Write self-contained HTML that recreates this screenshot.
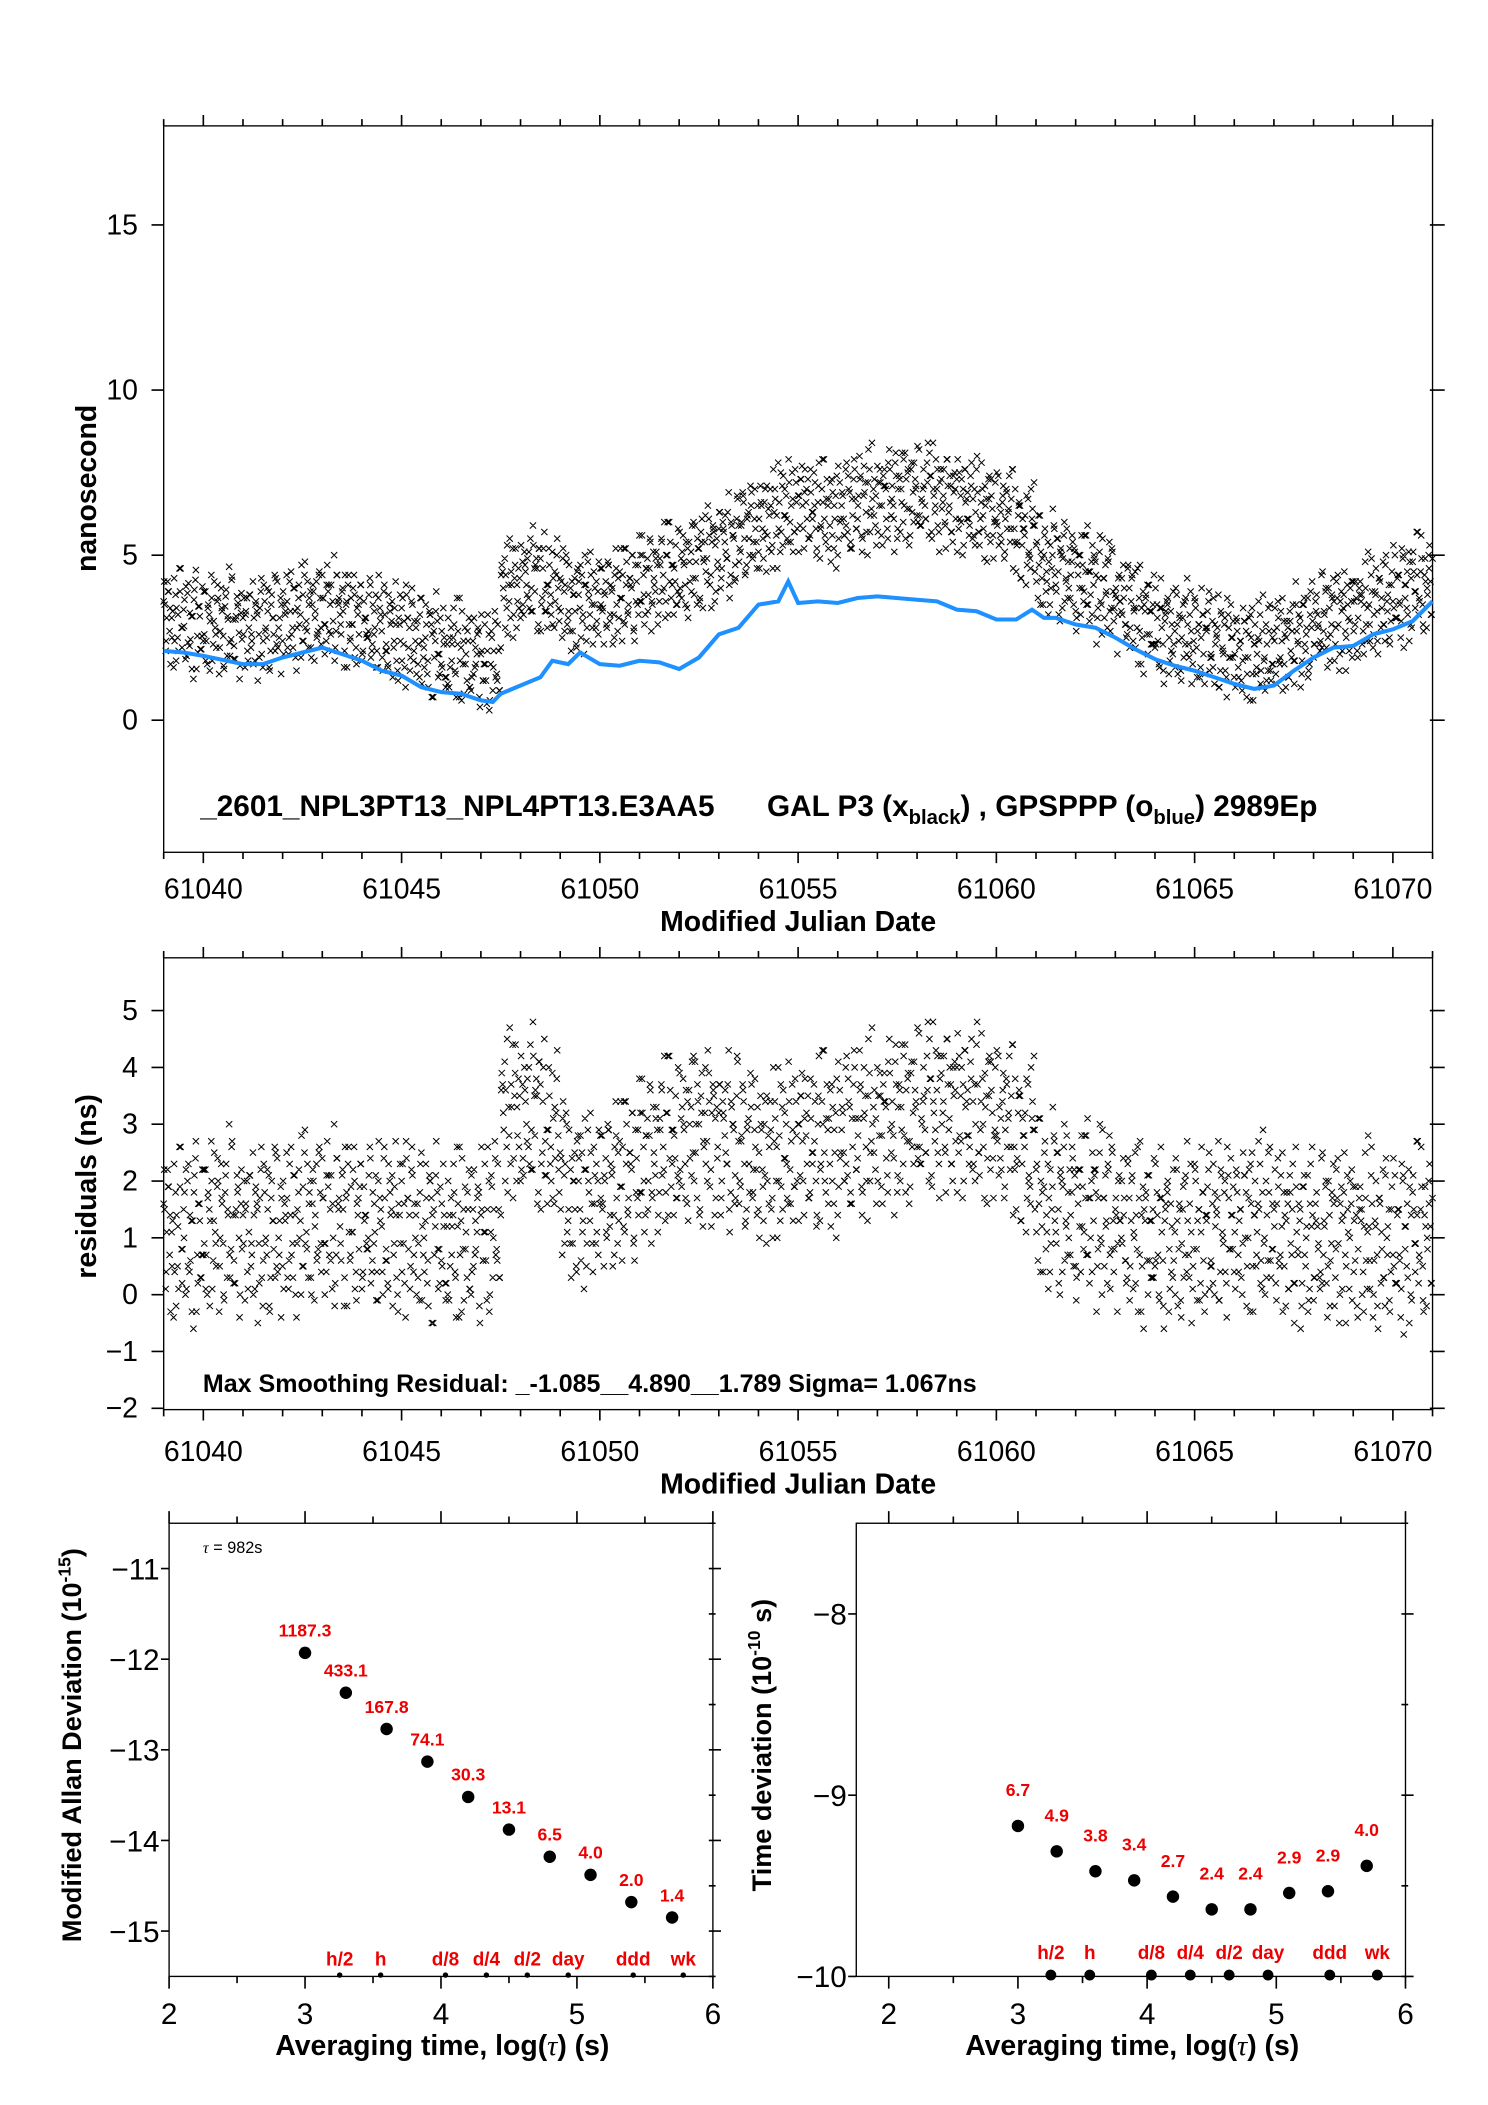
<!DOCTYPE html>
<html><head><meta charset="utf-8"><style>
html,body{margin:0;padding:0;background:#fff}
svg{display:block}
text{font-family:"Liberation Sans Narrow","Liberation Sans",sans-serif}
.b{font-family:"Liberation Sans",sans-serif;font-weight:bold}
</style></head><body>
<svg id="s" xmlns="http://www.w3.org/2000/svg" width="1488" height="2105" viewBox="0 0 1100 1556">
<rect width="1100" height="1556" fill="#fff"/>
<g id="g1"></g>
<g id="g2"></g>
<g id="g3"></g>
<g id="g4"></g>
</svg>
<script>
// ---- data ----
const mjdStart = 61039;
const topCenter = [3.0,2.95,2.9,2.85,2.8,2.9,3.1,3.2,3.3,3.1,2.9,2.7,2.5,2.3,2.1,1.9,1.8,3.9,4.3,4.0,3.6,3.6,3.7,3.9,4.2,4.4,4.6,5.0,5.3,5.7,6.0,6.3,6.4,6.3,6.4,6.6,6.7,6.8,6.8,6.7,6.5,6.3,6.2,5.6,4.7,4.6,4.3,4.0,3.5,3.1,2.7,2.6,2.5,2.3,2.1,2.1,2.3,2.6,3.0,3.1,3.3,3.5,3.9,4.1,4.4];
const midCenter = [1.0,1.1,1.2,1.2,1.1,1.1,1.2,1.3,1.3,1.3,1.2,1.2,1.1,1.1,1.0,1.0,1.2,3.1,3.2,2.8,1.8,1.7,1.9,2.1,2.4,2.6,2.8,2.8,2.7,2.5,2.4,2.5,2.6,2.7,2.8,2.9,3.0,3.1,3.2,3.3,3.2,3.1,3.0,2.6,1.6,1.6,1.5,1.4,1.2,1.1,1.0,1.0,1.1,1.2,1.2,1.2,1.1,1.0,1.0,1.1,1.0,0.9,1.0,1.1,1.2];
const dev = [
.6,-.9,1.2,-.3,.1,-1.4,.8,-.5,1.6,-.2,.4,-1.1,.9,-.7,.2,-1.7,1.3,-.4,.5,-.8,
-.5,1,-1.2,.3,1.5,-.6,-.1,.7,-1.5,1.1,-.3,.6,-.9,1.8,-.4,.2,-1,.9,-.2,.4,
.3,-1.2,.9,0,-.6,1.4,-1,.5,-.2,1.1,-1.3,.7,-.4,1,-.8,.2,1.5,-.6,-.1,.8,
-.7,.4,1.3,-1.1,.2,-.3,.9,-1.6,.6,.1,-.8,1.2,-.2,-1,.7,.3,-1.4,1,-.5,.5,
1.1,-.4,-.9,.6,.2,-1.2,1.7,-.6,.3,-.1,.8,-1.5,.4,1,-.7,-.2,1.3,-.9,.1,.6,
-1.1,.7,.2,-.4,1.4,-.8,-.3,.9,-1.3,.5,0,1.2,-.6,-1,.8,.3,-.5,1.5,-1.2,.2,
.9,-.2,-1.5,.6,.3,1.1,-.7,-.1,.5,-1.2,1.4,-.4,.2,-.9,1,.6,-1.6,.1,.7,-.3,
-.4,1.3,-.8,.2,-1.1,.7,.4,-.6,1.6,-1.4,.3,-.2,.9,-.7,1.2,-1,.5,-.3,.1,.8,
.2,-.6,1.1,-1.3,.8,-.1,-.9,1.5,-.4,.3,-1.7,.6,1,-.5,.2,-.8,1.3,.4,-1.1,.7,
-1.2,.5,.8,-.2,-.6,1.2,-1,.3,.6,-1.4,.9,-.3,1.7,-.7,.1,-.5,1.1,-1.2,.4,0,
.7,-1.1,.3,1.4,-.5,-.9,.6,.2,-1.3,1,-.2,.8,-1.6,.5,1.2,-.4,-.1,.9,-.8,.3,
-.3,.9,-1.4,.5,1.1,-.7,.2,-.5,1.5,-1,.6,-.2,-.9,1.3,-.6,.4,.1,-1.2,.8,-.4,
1.4,-.6,.2,-1,.7,.4,-1.5,.9,-.3,.5,-.8,1.1,0,-1.3,.6,1.6,-.7,.3,-.2,-.9,
-.8,.3,1,-.5,-1.2,.8,.5,-.3,1.3,-1.1,.2,.7,-1.6,.4,-.1,1.1,-.6,.9,-1.4,.5,
.5,-1.3,.7,.1,-.4,1.6,-.9,.3,-1.1,.8,.2,-.6,1.2,-.2,-1,.6,1.4,-.8,.4,-.3,
-.9,1.1,-.2,.6,-1.5,.4,1,-.7,.3,-.4,1.5,-1.2,.8,-.1,.5,-.9,-.3,1.2,-.6,.9,
.4,-.5,1.3,-1.2,.2,.9,-.8,-.1,1.1,-.6,.3,-1.4,.7,1.6,-.9,.2,-.4,1,-1.1,.5,
-1.4,.8,.1,-.3,1.2,-.7,.5,-1.2,.9,.3,-.5,1.4,-1,.2,.6,-1.6,1,-.2,.4,-.7,
1,-.2,-1.1,.7,.4,-.9,1.5,-.5,-.2,1.1,-1.3,.6,.2,-.8,1.3,-.4,-1.5,.8,.1,.5,
-.6,1.4,-.9,.2,-.3,1,-1.2,.6,1.6,-.5,.3,-1,.9,-.1,-.7,1.2,-.4,.4,-1.3,.8,
.8,-.7,.3,-1.5,1.1,.2,-.4,.9,-1,.5,1.3,-.6,-.2,.7,-1.4,.4,1,-.9,.1,-.3,
-.2,1.2,-.6,.4,-1.3,.8,.1,-.8,1.4,-.4,-1.1,.6,.9,-.3,.2,-1.5,1.1,-.7,.5,1.6,
.6,-1,1.5,-.4,.3,-.8,.7,-1.2,-.1,1.2,-.5,.9,-1.6,.4,1,-.3,-.9,.6,.2,-1.1,
-1,.4,-.3,1.3,-.7,.2,1.6,-1.3,.5,-.2,.8,-.9,1.1,-.5,.3,.7,-1.2,1.4,-.6,-.1,
.3,-1.5,.9,-.2,1.2,-.6,-.9,.5,.1,-1.1,1.4,-.3,.6,-1.4,.8,.2,-.5,1,-.8,.4,
-.5,.8,-1,1.6,-.4,.3,.9,-1.3,.6,-.7,.1,1.2,-.2,-1.1,.5,1,-.6,-.3,1.3,-.9,
1.2,-.3,.4,-.9,.7,-1.4,.2,1.1,-.6,.5,-1.2,.3,1.5,-.8,-.1,.6,-1,.9,-.4,.2,
-.8,1,-.5,.3,-1.2,.9,.6,-.2,-1.5,1.3,.2,-.7,.4,1.1,-1.1,-.3,.8,-.6,1.4,-.4,
.4,-.9,1.3,-.6,.1,.7,-1.3,.5,1,-.4,-.8,1.6,-.2,.3,-1.2,.9,-.5,1.1,-.9,.2,
-1.1,.6,.2,-.7,1.4,-.3,.9,-1.4,.4,-.1,1.2,-.8,.6,-1.6,.8,.3,-.4,1,-1,.5,
.9,-.4,-1.2,.7,.3,-.6,1.5,-.9,.2,1.1,-1.3,.4,-.2,.8,-.7,1.3,-1.1,.1,.6,-.5,
-.3,1.1,-.8,.5,-1.4,1,.2,-.5,1.2,-1,.7,-.2,1.6,-.9,.4,-.6,.3,-1.3,.9,.1,
.5
];
const blueX = [61039,61039.5,61040,61041,61041.5,61042,61042.5,61043,61043.5,61044,61044.5,61045,61045.5,61046,61046.5,61047,61047.3,61047.5,61048,61048.5,61048.8,61049.2,61049.5,61050,61050.5,61051,61051.5,61052,61052.5,61053,61053.5,61054,61054.5,61054.75,61055,61055.5,61056,61056.5,61057,61058,61058.5,61059,61059.5,61060,61060.5,61060.9,61061.2,61061.5,61062,61062.5,61063,61063.5,61064,61064.5,61065,61065.5,61066,61066.5,61067,61067.5,61068,61068.5,61069,61069.5,61070,61070.5,61071];
const blueY = [2.1,2.05,1.95,1.7,1.7,1.9,2.05,2.2,2.0,1.8,1.5,1.35,1.0,0.85,0.8,0.6,0.55,0.8,1.05,1.3,1.8,1.7,2.05,1.7,1.65,1.8,1.75,1.55,1.9,2.6,2.8,3.5,3.6,4.2,3.55,3.6,3.55,3.7,3.75,3.65,3.6,3.35,3.3,3.05,3.05,3.35,3.1,3.1,2.9,2.8,2.5,2.15,1.85,1.65,1.5,1.3,1.1,0.95,1.05,1.5,1.9,2.2,2.25,2.6,2.75,3.0,3.6];
const logTau = [3.0,3.3,3.6,3.9,4.2,4.5,4.8,5.1,5.4,5.7];
const madev = [-11.93,-12.37,-12.77,-13.13,-13.52,-13.88,-14.18,-14.38,-14.68,-14.85];
const madevLabels = ["1187.3","433.1","167.8","74.1","30.3","13.1","6.5","4.0","2.0","1.4"];
const tdev = [-9.17,-9.31,-9.42,-9.47,-9.56,-9.63,-9.63,-9.54,-9.53,-9.39];
const tdevLabels = ["6.7","4.9","3.8","3.4","2.7","2.4","2.4","2.9","2.9","4.0"];
const markerNames = ["h/2","h","d/8","d/4","d/2","day","ddd","wk"];
const markerTau = [3.255,3.556,4.033,4.334,4.635,4.936,5.414,5.782];
const mjdTicks = [61040,61045,61050,61055,61060,61065,61070];
const topYTicks = [0,5,10,15];
const midYTicks = [-2,-1,0,1,2,3,4,5];

// ---- helpers ----
const NS='http://www.w3.org/2000/svg';
function mk(parent,tag,attrs,txt){const e=document.createElementNS(NS,tag);for(const k in attrs)e.setAttribute(k,attrs[k]);if(txt!==undefined)e.textContent=txt;parent.appendChild(e);return e;}
function lin(d0,d1,r0,r1){return v=>r0+(v-d0)*(r1-r0)/(d1-d0);}
function scatterPath(X,Y,center){
  let d='';const n=dev.length;
  const passes=[[0,0],[0.025,1],[0.0125,2]];
  for(const [off,mode] of passes){
    for(let i=0;i<n;i++){
      const mj=mjdStart+i*0.05+off; if(mj>61071)continue;
      const k=Math.min(center.length-1,Math.floor((mj-mjdStart)/0.5+1e-9));
      const dv = mode===0?dev[i]:(mode===1?dev[n-1-i]:dev[(i+317)%n]);
      const x=X(mj),y=Y(center[k]+dv);
      d+=`M${(x-2.3).toFixed(1)},${(y-2.3).toFixed(1)}l4.6,4.6m0,-4.6l-4.6,4.6`;
    }
  }
  return d;
}

// ===== Panel 1 =====
(function(){
const g=document.getElementById('g1');
const L=121,R=1059,T=93,B=630;
const X=lin(61039,61071,L,R), Y=lin(-4,18,B,T);
let f=mk(g,'rect',{x:L,y:T,width:R-L,height:B-T,fill:'none',stroke:'#000','stroke-width':1});

let tk='';
for(let d=61039;d<=61071;d++){const x=X(d);const len=(d%5===0)?8:5;tk+=`M${x},${T}v${-len}M${x},${B}v${len}`;}
for(const v of topYTicks){const y=Y(v);tk+=`M${L},${y}h-9M${R-2},${y}h11`;}
let p=mk(g,'path',{d:tk,stroke:'#000','stroke-width':1.2,fill:'none'});

for(const v of topYTicks){let t=mk(g,'text',{x:102,y:Y(v)+7,'text-anchor':'end','font-size':21},String(v));
}
for(const v of mjdTicks){let t=mk(g,'text',{x:X(v),y:664,'text-anchor':'middle','font-size':21},String(v));
}
let t=mk(g,'text',{x:590,y:688,'text-anchor':'middle','font-size':21,class:'b'},'Modified Julian Date');

t=mk(g,'text',{x:0,y:0,'text-anchor':'middle','font-size':21,class:'b',transform:'translate(71,361) rotate(-90)'},'nanosecond');

p=mk(g,'path',{d:scatterPath(X,Y,topCenter),stroke:'#000','stroke-width':0.75,fill:'none'});

let bl=blueX.map((v,i)=>`${X(v).toFixed(1)},${Y(blueY[i]).toFixed(1)}`).join(' ');
p=mk(g,'polyline',{points:bl,stroke:'#1e90ff','stroke-width':3,fill:'none'});

t=mk(g,'text',{x:148,y:603,'font-size':22,class:'b'});

t.innerHTML='_2601_NPL3PT13_NPL4PT13.E3AA5<tspan x="567">GAL P3 (x</tspan><tspan dy="6" font-size="15">black</tspan><tspan dy="-6">) ,  GPSPPP (o</tspan><tspan dy="6" font-size="15">blue</tspan><tspan dy="-6">)  2989Ep</tspan>';
})();

// ===== Panel 2 =====
(function(){
const g=document.getElementById('g2');
const L=121,R=1059,T=708,B=1042;
const X=lin(61039,61071,L,R), Y=lin(0,5,957,747);
let f=mk(g,'rect',{x:L,y:T,width:R-L,height:B-T,fill:'none',stroke:'#000','stroke-width':1});

let tk='';
for(let d=61039;d<=61071;d++){const x=X(d);const len=(d%5===0)?8:5;tk+=`M${x},${T}v${-len}M${x},${B}v${len}`;}
for(const v of midYTicks){const y=Y(v);tk+=`M${L},${y}h-9M${R-2},${y}h11`;}
let p=mk(g,'path',{d:tk,stroke:'#000','stroke-width':1.2,fill:'none'});

for(const v of midYTicks){let t=mk(g,'text',{x:102,y:Y(v)+7,'text-anchor':'end','font-size':21},(v<0?'\u2212'+(-v):String(v)));
}
for(const v of mjdTicks){let t=mk(g,'text',{x:X(v),y:1080,'text-anchor':'middle','font-size':21},String(v));
}
let t=mk(g,'text',{x:590,y:1104,'text-anchor':'middle','font-size':21,class:'b'},'Modified Julian Date');

t=mk(g,'text',{x:0,y:0,'text-anchor':'middle','font-size':21,class:'b',transform:'translate(71,877) rotate(-90)'},'residuals (ns)');

p=mk(g,'path',{d:scatterPath(X,Y,midCenter),stroke:'#000','stroke-width':0.75,fill:'none'});

t=mk(g,'text',{x:150,y:1029,'font-size':18.5,class:'b'},'Max Smoothing Residual: _-1.085__4.890__1.789  Sigma= 1.067ns');

})();

// ===== Stability panels =====
function stab(gid,L,R,T,B,xd0,yd0,yd1,yTicks,vals,labels,bottomR,labelDy,titleX,yTitleHTML,ytx){
const g=document.getElementById(gid);
const X=lin(2,6,xd0,R), Y=lin(yd0,yd1,B,T);
let f=mk(g,'rect',{x:L,y:T,width:R-L,height:B-T,fill:'none',stroke:'#000','stroke-width':1});

let tk='';
for(let v=2;v<=6.001;v+=0.5){const x=X(v);const len=(Math.abs(v-Math.round(v))<0.01)?9:5;tk+=`M${x},${T}v${-len}M${x},${B}v${len}`;}
for(let v=Math.ceil(yd0*2)/2;v<=yd1+0.001;v+=0.5){const y=Y(v);const maj=Math.abs(v-Math.round(v))<0.01;tk+=`M${R-3},${y}h${maj?9:5}`;if(maj)tk+=`M${L},${y}h-6`;}
let p=mk(g,'path',{d:tk,stroke:'#000','stroke-width':1.2,fill:'none'});

for(const v of yTicks){let t=mk(g,'text',{x:L-7,y:Y(v)+8,'text-anchor':'end','font-size':22},'\u2212'+(-v));
}
for(let v=2;v<=6;v++){let t=mk(g,'text',{x:X(v),y:1496,'text-anchor':'middle','font-size':22},String(v));
}
let t=mk(g,'text',{x:titleX,y:1519,'text-anchor':'middle','font-size':21,class:'b'});
t.innerHTML='Averaging time, log(<tspan font-family="Liberation Serif" font-style="italic" font-weight="normal">τ</tspan>) (s)';

t=mk(g,'text',{x:0,y:0,'text-anchor':'middle','font-size':20,class:'b',transform:`translate(${ytx},1290) rotate(-90)`});
t.innerHTML=yTitleHTML;

for(let i=0;i<vals.length;i++){
 let c=mk(g,'circle',{cx:X(logTau[i]),cy:Y(vals[i]),r:4.6,fill:'#000'});
 
 let l=mk(g,'text',{x:X(logTau[i]),y:Y(vals[i])+labelDy,'text-anchor':'middle','font-size':13,fill:'#e00',class:'b'},labels[i]);
 
}
for(let i=0;i<markerTau.length;i++){
 let c=mk(g,'circle',{cx:X(markerTau[i]),cy:B-1,r:bottomR,fill:'#000'});
 
 let l=mk(g,'text',{x:X(markerTau[i]),y:B-(bottomR>3?13:8),'text-anchor':'middle','font-size':14,fill:'#e00',class:'b'},markerNames[i]);
 
}
return g;
}
const g3=stab('g3',125,527,1126,1461,125,-15.5,-10.5,[-11,-12,-13,-14,-15],madev,madevLabels,2,-12,327,'Modified Allan Deviation (10<tspan dy="-8" font-size="13">-15</tspan><tspan dy="8">)</tspan>',60);
let tt=mk(g3,'text',{x:150,y:1148,'font-size':12});
tt.innerHTML='<tspan font-family="Liberation Serif" font-style="italic">τ</tspan> = 982s';

stab('g4',633,1039,1126,1461,657,-10,-7.5,[-8,-9,-10],tdev,tdevLabels,4,-22,837,'Time deviation (10<tspan dy="-8" font-size="13">-10</tspan><tspan dy="8"> s)</tspan>',570);
</script>
</body></html>
